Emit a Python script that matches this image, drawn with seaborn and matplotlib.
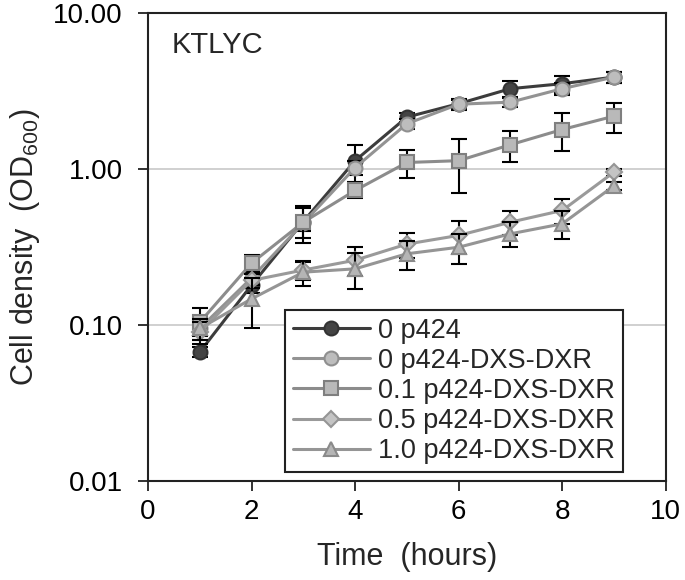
import numpy as np
import pandas as pd
import matplotlib
matplotlib.use("Agg")
import matplotlib.pyplot as plt
import seaborn as sns

# data (OD600 vs time)
time = [1, 2, 3, 4, 5, 6, 7, 8, 9]
labels = ["0 p424", "0 p424-DXS-DXR", "0.1 p424-DXS-DXR",
          "0.5 p424-DXS-DXR", "1.0 p424-DXS-DXR"]

od_0_p424 = [0.067, 0.18, 0.46, 1.13, 2.15, 2.62, 3.27, 3.52, 3.88]
err_0_p424 = [0.005, 0.02, 0.10, 0.30, 0.15, 0.15, 0.40, 0.45, 0.30]
od_0_dxs = [0.095, 0.20, 0.45, 1.02, 1.95, 2.60, 2.68, 3.27, 3.88]
err_0_dxs = [0.010, 0.02, 0.05, 0.10, 0.15, 0.20, 0.20, 0.30, 0.30]
od_01_dxs = [0.104, 0.249, 0.456, 0.728, 1.10, 1.13, 1.43, 1.79, 2.18]
err_01_dxs = [0.024, 0.03, 0.12, 0.08, 0.22, 0.43, 0.32, 0.48, 0.47]
od_05_dxs = [0.090, 0.193, 0.225, 0.26, 0.33, 0.375, 0.456, 0.542, 0.955]
err_05_dxs = [0.015, 0.02, 0.03, 0.055, 0.06, 0.09, 0.08, 0.10, 0.05]
od_10_dxs = [0.095, 0.147, 0.218, 0.229, 0.286, 0.315, 0.384, 0.445, 0.78]
err_10_dxs = [0.015, 0.052, 0.04, 0.06, 0.06, 0.07, 0.07, 0.09, 0.05]

values = [od_0_p424, od_0_dxs, od_01_dxs, od_05_dxs, od_10_dxs]
errors = [err_0_p424, err_0_dxs, err_01_dxs, err_05_dxs, err_10_dxs]

# styles
markers = ["o", "o", "s", "D", "^"]
msizes = [10, 10, 9.5, 8, 10.5]
line_colors = ["#3c3c3c", "#939393", "#8c8c8c", "#9a9a9a", "#959595"]
face_colors = ["#444444", "#bdbdbd", "#b9b9b9", "#c4c4c4", "#b5b5b5"]
edge_colors = ["#333333", "#8f8f8f", "#7f7f7f", "#959595", "#8a8a8a"]

sns.set_style("white")
plt.rcParams["font.family"] = ["Liberation Sans", "DejaVu Sans"]
plt.rcParams["mathtext.fontset"] = "custom"
plt.rcParams["mathtext.rm"] = "Liberation Sans"
plt.rcParams["mathtext.it"] = "Liberation Sans:italic"

fig = plt.figure(figsize=(6.85, 5.8), dpi=100)
ax = fig.add_axes([0.216, 0.1707, 0.756, 0.807])

for i in range(len(labels)):
    df = pd.DataFrame({"Time": time, "OD": values[i]})
    ax.errorbar(time, values[i], yerr=errors[i], fmt="none", ecolor="black",
                elinewidth=1.5, capsize=6, capthick=1.5, zorder=2 + i)
    sns.lineplot(data=df, x="Time", y="OD", ax=ax, label=labels[i],
                 color=line_colors[i], linewidth=2.2, marker=markers[i],
                 markersize=msizes[i], markerfacecolor=face_colors[i],
                 markeredgecolor=edge_colors[i], markeredgewidth=1.5,
                 zorder=3 + i)

ax.set_yscale("log")
ax.set_ylim(0.01, 10)
ax.set_xlim(0, 10)
ax.set_xticks([0, 2, 4, 6, 8, 10])
ax.set_yticks([0.01, 0.1, 1, 10])
ax.set_yticklabels(["0.01", "0.10", "1.00", "10.00"])
ax.yaxis.set_minor_locator(matplotlib.ticker.NullLocator())
ax.grid(axis="y", which="major", color="#c8c8c8", linewidth=1.2)
ax.set_axisbelow(True)

for side in ["left", "right", "top", "bottom"]:
    ax.spines[side].set_visible(True)
    ax.spines[side].set_color("#222222")
    ax.spines[side].set_linewidth(1.5)

ax.tick_params(axis="both", direction="out", length=7, width=1.3,
               labelsize=20, colors="#222222", labelcolor="black",
               left=True, bottom=True)
ax.tick_params(axis="x", pad=6)
ax.tick_params(axis="y", pad=11)

ax.set_xlabel("Time  (hours)", fontsize=22, labelpad=12)
ax.set_ylabel(r"Cell density  (OD$_{600}$)", fontsize=22, labelpad=8)

ax.text(0.046, 0.962, "KTLYC", transform=ax.transAxes, fontsize=21,
        va="top", ha="left")

leg = ax.legend(loc="upper left", bbox_to_anchor=(0.264, 0.366),
                fontsize=19.5, frameon=True, fancybox=False, handlelength=2.85,
                labelspacing=0.15, borderpad=0.3, handletextpad=0.3,
                borderaxespad=0)
leg.get_frame().set_edgecolor("#222222")
leg.get_frame().set_linewidth(1.5)
leg.get_frame().set_alpha(1)

fig.savefig("out.png", dpi=100)
